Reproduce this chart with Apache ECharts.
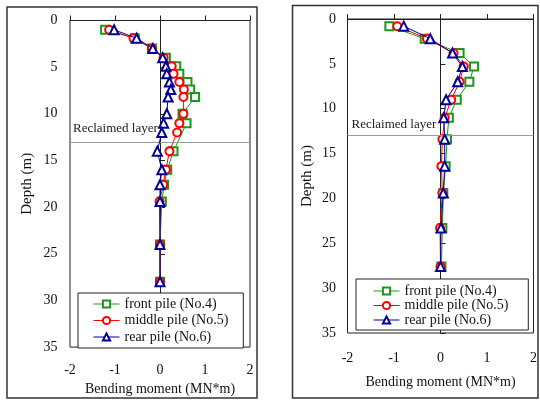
<!DOCTYPE html>
<html><head><meta charset="utf-8">
<script src="https://cdn.jsdelivr.net/npm/echarts@6/dist/echarts.min.js"></script>
<style>html,body{margin:0;padding:0;background:#fff}#c{width:540px;height:401px}</style>
</head><body><div id="c"></div>
<script>
// ---- data ----
const seriesNames = ['front pile (No.4)', 'middle pile (No.5)', 'rear pile (No.6)'];
const xTicks = [-2, -1, 0, 1, 2];
const yTicks = [0, 5, 10, 15, 20, 25, 30, 35];
const reclaimedDepth = 13;
const reclaimedLabel = 'Reclaimed layer';
const xName = 'Bending moment (MN*m)';
const yName = 'Depth (m)';

// left panel
const depthL = [1.0, 1.9, 3.0, 4.0, 4.9, 5.7, 6.6, 7.4, 8.2, 10.0, 11.0, 12.0, 14.0, 16.0, 17.6, 19.4, 24.0, 28.0];
const frontL = [-1.22, -0.56, -0.18, 0.13, 0.36, 0.43, 0.61, 0.67, 0.78, 0.50, 0.59, null, 0.30, 0.16, 0.09, 0.04, 0.0, 0.0];
const middleL = [-1.13, -0.59, -0.18, 0.08, 0.26, 0.30, 0.43, 0.53, 0.52, 0.52, 0.43, 0.38, 0.21, 0.13, 0.07, -0.01, 0.0, 0.0];
const rearL = [-1.02, -0.52, -0.16, 0.06, 0.13, 0.15, 0.21, 0.24, 0.18, 0.15, 0.08, 0.04, -0.06, 0.04, 0.0, 0.0, 0.0, 0.0];

// right panel
const depthR = [0.8, 2.2, 3.8, 5.3, 7.0, 9.0, 11.0, 13.4, 16.4, 19.4, 23.3, 27.6];
const frontR = [-1.10, -0.34, 0.41, 0.72, 0.62, 0.35, 0.18, 0.14, 0.11, 0.06, 0.04, 0.02];
const middleR = [-0.93, -0.29, 0.28, 0.50, 0.41, 0.23, 0.09, 0.04, 0.02, 0.04, -0.01, 0.0];
const rearR = [-0.79, -0.22, 0.26, 0.47, 0.37, 0.12, 0.07, 0.09, 0.09, 0.06, 0.01, 0.0];

// ---- styles ----
const colors = ['#1e961e', '#ff0000', '#000099'];
const symbols = ['emptyRect', 'emptyCircle', 'emptyTriangle'];
const symSizes = [8, 8, 9];
const FONT = 'Liberation Serif';

function pairs(xs, ds) {
  const out = [];
  xs.forEach((v, i) => { if (v !== null) out.push([v, ds[i]]); });
  return out;
}

const panels = [
  { depth: depthL, vals: [frontL, middleL, rearL], grid: { left: 70, top: 20.5, width: 180, height: 328 },
    yGap: 35, xGap: 28, xMargin: 16, yMargin: 12.5, labDist: [3, 7] },
  { depth: depthR, vals: [frontR, middleR, rearR], grid: { left: 347.5, top: 19, width: 186.5, height: 314 },
    yGap: 33, xGap: 42, xMargin: 18, yMargin: 11.5, labDist: [4, 5] }
];

const grids = [], xAxes = [], yAxes = [], series = [];
panels.forEach((p, pi) => {
  grids.push(Object.assign({ show: true, borderColor: '#222', borderWidth: 1, backgroundColor: '#fff' }, p.grid));
  xAxes.push({
    type: 'value', gridIndex: pi, min: xTicks[0], max: xTicks[xTicks.length - 1], interval: 1,
    name: xName, nameLocation: 'middle', nameGap: p.xGap,
    nameTextStyle: { fontFamily: FONT, fontSize: 14, color: '#111' },
    axisLine: { show: true, lineStyle: { color: '#222' } },
    axisTick: { show: true, inside: true, length: 5, lineStyle: { color: '#222' } },
    axisLabel: { fontFamily: FONT, fontSize: 14, color: '#111', margin: p.xMargin },
    splitLine: { show: false }
  });
  yAxes.push({
    type: 'value', gridIndex: pi, inverse: true, min: yTicks[0], max: yTicks[yTicks.length - 1], interval: 5,
    name: yName, nameLocation: 'middle', nameGap: p.yGap,
    nameTextStyle: { fontFamily: FONT, fontSize: 15, color: '#111' },
    axisLine: { show: true, lineStyle: { color: '#222' } },
    axisTick: { show: true, inside: true, length: 5, lineStyle: { color: '#222' } },
    axisLabel: { fontFamily: FONT, fontSize: 14, color: '#111', margin: p.yMargin },
    splitLine: { show: false }
  });
  seriesNames.forEach((nm, si) => {
    const s = {
      name: nm, type: 'line', xAxisIndex: pi, yAxisIndex: pi,
      data: pairs(p.vals[si], p.depth),
      symbol: symbols[si], symbolSize: symSizes[si], showAllSymbol: true,
      lineStyle: { color: colors[si], width: 1 },
      itemStyle: { color: colors[si], borderWidth: 1 },
      animation: false, z: 3 + si
    };
    if (si === 0) {
      s.markLine = {
        silent: true, symbol: 'none', animation: false,
        lineStyle: { color: '#999', width: 1, type: 'solid' },
        label: { show: true, position: 'insideStartTop', formatter: reclaimedLabel, distance: p.labDist,
                 fontFamily: FONT, fontSize: 13, color: '#222' },
        data: [{ yAxis: reclaimedDepth }]
      };
    }
    series.push(s);
  });
});

const legendBase = {
  orient: 'vertical', data: seriesNames, itemWidth: 26, itemHeight: 9,
  textStyle: { fontFamily: FONT, fontSize: 14, color: '#111' },
  lineStyle: { width: 1 }, itemStyle: { borderWidth: 1 },
  backgroundColor: '#fff', borderColor: '#222', borderWidth: 1, selectedMode: false
};

const option = {
  backgroundColor: '#fff',
  animation: false,
  grid: grids, xAxis: xAxes, yAxis: yAxes, series: series,
  legend: [
    Object.assign({}, legendBase, { left: 78, top: 293, padding: [4, 15, 4, 15], itemGap: 2.5 }),
    Object.assign({}, legendBase, { left: 356, top: 279, padding: [5, 20, 3, 17], itemGap: 0.5 })
  ],
  graphic: [
    { type: 'rect', shape: { x: 7, y: 7, width: 250, height: 391 }, style: { fill: null, stroke: '#333', lineWidth: 1.5 }, silent: true },
    { type: 'rect', shape: { x: 292.5, y: 5.5, width: 245.5, height: 392.5 }, style: { fill: null, stroke: '#333', lineWidth: 1.5 }, silent: true }
  ]
};

const chart = echarts.init(document.getElementById('c'), null, { renderer: 'canvas' });
chart.setOption(option);
</script></body></html>
